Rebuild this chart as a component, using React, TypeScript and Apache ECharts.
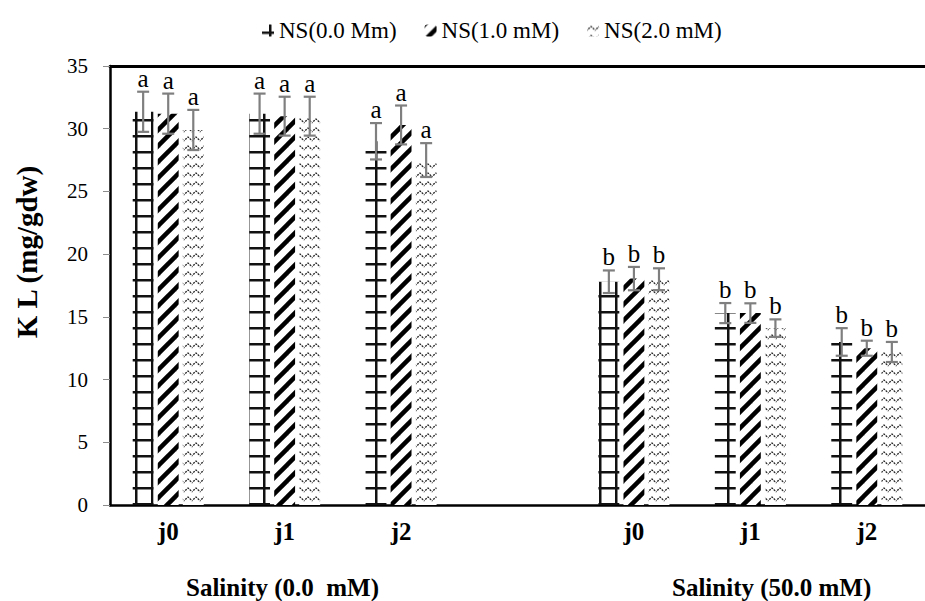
import React, { useEffect, useRef } from 'react';
import * as echarts from 'echarts';

const categories = ['j0', 'j1', 'j2', '', 'j0', 'j1', 'j2'];
const seriesNames = ['NS(0.0 Mm)', 'NS(1.0 mM)', 'NS(2.0 mM)'];
const ns0Values = [31.35, 31.2, 29.0, null, 17.8, 15.3, 13.0];
const ns1Values = [31.2, 31.0, 30.3, null, 18.05, 15.3, 12.5];
const ns2Values = [29.9, 31.0, 27.5, null, 18.0, 14.1, 12.2];
const ns0Errors = [1.6, 1.6, 1.45, null, 0.9, 0.8, 1.1];
const ns1Errors = [1.6, 1.55, 1.55, null, 0.93, 0.78, 0.6];
const ns2Errors = [1.6, 1.55, 1.35, null, 0.87, 0.7, 0.8];
const ns0Letters = ['a', 'a', 'a', '', 'b', 'b', 'b'];
const ns1Letters = ['a', 'a', 'a', '', 'b', 'b', 'b'];
const ns2Letters = ['a', 'a', 'a', '', 'b', 'b', 'b'];
const groupLabels = ['Salinity (0.0  mM)', 'Salinity (50.0 mM)'];
const yAxisTitle = 'K L (mg/gdw)';

const SERIF = 'Liberation Serif, Times New Roman, serif';
const CAT_GAP = 0.39;
const BAR_GAP = 0.2;

function makePattern(kind: number): any {
  const w = kind === 2 ? 8 : 16;
  const h = kind === 2 ? 9 : 16;
  const c = document.createElement('canvas');
  c.width = w;
  c.height = h;
  const ctx = c.getContext('2d')!;
  ctx.fillStyle = '#fff';
  ctx.fillRect(0, 0, w, h);
  if (kind === 0) {
    ctx.fillStyle = '#111';
    ctx.fillRect(0, 7, 16, 2.5);
    ctx.fillRect(7, 0, 2.5, 16);
  } else if (kind === 1) {
    ctx.strokeStyle = '#000';
    ctx.lineWidth = 4.5;
    for (const o of [-16, 0, 16]) {
      ctx.beginPath();
      ctx.moveTo(o - 4, 20);
      ctx.lineTo(o + 20, -4);
      ctx.stroke();
    }
  } else {
    ctx.strokeStyle = '#222';
    ctx.lineWidth = 1.3;
    ctx.setLineDash([2, 1]);
    ctx.beginPath();
    ctx.moveTo(-1, 6.5);
    ctx.lineTo(4, 2);
    ctx.lineTo(9, 6.5);
    ctx.stroke();
  }
  return { image: c, repeat: 'repeat', imageWidth: w, imageHeight: h };
}

function errorSeries(values: any[], errors: any[], letters: string[], idx: number) {
  const data: any[] = [];
  values.forEach((v, i) => {
    if (v !== null) data.push([i, v, errors[i], letters[i]]);
  });
  return {
    type: 'custom',
    z: 10,
    data,
    silent: true,
    renderItem: (params: any, api: any) => {
      const cat = api.value(0);
      const val = api.value(1);
      const err = api.value(2);
      const letter = data[params.dataIndex][3];
      const bandW = api.size([1, 0])[0];
      const barW = (bandW * (1 - CAT_GAP)) / (3 + 2 * BAR_GAP);
      const offset = (idx - 1) * barW * (1 + BAR_GAP);
      const c = api.coord([cat, val]);
      const x = c[0] + offset;
      const top = api.coord([cat, val + err])[1];
      const bot = api.coord([cat, val - err])[1];
      const stroke = { stroke: '#7f7f7f', lineWidth: 2.2 };
      return {
        type: 'group',
        children: [
          { type: 'line', shape: { x1: x, y1: top, x2: x, y2: bot }, style: stroke },
          { type: 'line', shape: { x1: x - 6, y1: top, x2: x + 6, y2: top }, style: stroke },
          { type: 'line', shape: { x1: x - 6, y1: bot, x2: x + 6, y2: bot }, style: stroke },
          {
            type: 'text',
            x,
            y: top - 1,
            style: {
              text: letter,
              fill: '#000',
              fontFamily: SERIF,
              fontSize: 25,
              align: 'center',
              verticalAlign: 'bottom',
            },
          },
        ],
      };
    },
  };
}

export default function App() {
  const ref = useRef<HTMLDivElement>(null);
  useEffect(() => {
    if (!ref.current) return;
    const chart = echarts.init(ref.current, null, { renderer: 'svg' });
    const valueSets = [ns0Values, ns1Values, ns2Values];
    const errorSets = [ns0Errors, ns1Errors, ns2Errors];
    const letterSets = [ns0Letters, ns1Letters, ns2Letters];
    const barSeries = valueSets.map((vals, i) => ({
      type: 'bar',
      name: seriesNames[i],
      data: vals.map((v) => (v === null ? '-' : v)),
      barGap: `${BAR_GAP * 100}%`,
      barCategoryGap: `${CAT_GAP * 100}%`,
      itemStyle: { color: makePattern(i) },
      emphasis: { disabled: true },
    }));
    const errSeries = valueSets.map((vals, i) => errorSeries(vals, errorSets[i], letterSets[i], i));
    chart.setOption({
      animation: false,
      legend: {
        data: seriesNames,
        left: 257,
        top: 14,
        itemWidth: 12,
        itemHeight: 12,
        itemGap: 28,
        textStyle: { fontFamily: SERIF, fontSize: 23, color: '#000' },
      },
      grid: { left: 110, top: 66, width: 826, height: 439 },
      xAxis: [
        {
          type: 'category',
          data: categories,
          position: 'bottom',
          axisLine: { lineStyle: { color: '#000', width: 2.5 } },
          axisTick: { show: false },
          axisLabel: {
            color: '#000',
            fontFamily: SERIF,
            fontWeight: 'bold',
            fontSize: 25,
            margin: 14,
            interval: 0,
          },
        },
        {
          type: 'category',
          data: categories,
          position: 'top',
          axisLine: { lineStyle: { color: '#000', width: 3 } },
          axisTick: { show: false },
          axisLabel: { show: false },
        },
      ],
      yAxis: {
        type: 'value',
        min: 0,
        max: 35,
        interval: 5,
        axisLine: { show: true, lineStyle: { color: '#000', width: 2.5 } },
        axisTick: { show: true, length: 7, lineStyle: { color: '#8c8c8c', width: 1 } },
        splitLine: { show: false },
        axisLabel: { color: '#000', fontFamily: SERIF, fontSize: 21, margin: 22 },
      },
      graphic: [
        {
          type: 'text',
          x: 27,
          y: 252,
          rotation: Math.PI / 2,
          style: {
            text: yAxisTitle,
            fill: '#000',
            fontFamily: SERIF,
            fontWeight: 'bold',
            fontSize: 29,
            align: 'center',
            verticalAlign: 'middle',
          },
        },
        {
          type: 'text',
          x: 186,
          y: 587,
          style: {
            text: groupLabels[0],
            fill: '#000',
            fontFamily: SERIF,
            fontWeight: 'bold',
            fontSize: 25,
            align: 'left',
            verticalAlign: 'middle',
          },
        },
        {
          type: 'text',
          x: 672,
          y: 587,
          style: {
            text: groupLabels[1],
            fill: '#000',
            fontFamily: SERIF,
            fontWeight: 'bold',
            fontSize: 25,
            align: 'left',
            verticalAlign: 'middle',
          },
        },
      ],
      series: [...barSeries, ...errSeries],
    });
    return () => chart.dispose();
  }, []);
  return (
    <div
      ref={ref}
      style={{ position: 'fixed', left: 0, top: 0, width: 925, height: 601, background: '#fff' }}
    />
  );
}
